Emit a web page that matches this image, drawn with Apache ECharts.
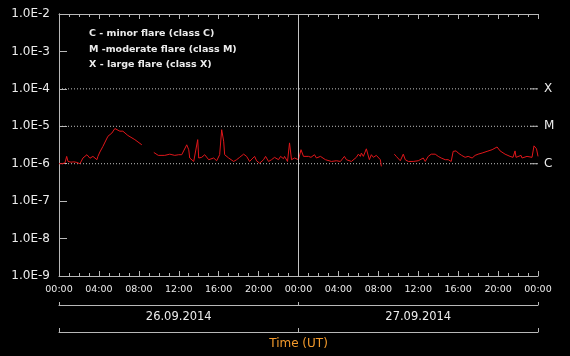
<!DOCTYPE html>
<html>
<head>
<meta charset="utf-8">
<script src="https://cdn.jsdelivr.net/npm/echarts@6/dist/echarts.min.js"></script>
<style>
html,body{margin:0;padding:0;background:#000;}
#chart{width:570px;height:356px;}
</style>
</head>
<body>
<div id="chart"></div>
<script>
// Time in hours since 26.09.2014 00:00 UT
const hours = [
  0, 0.3, 0.6, 0.77, 0.9, 1.2, 1.5, 1.8, 2.1, 2.4, 2.8, 3.1, 3.4, 3.8, 3.9, 4.1, 4.4, 4.6, 4.9, 5.3, 5.6, 5.8, 6.1, 6.4, 6.9, 7.6, 8.3,
  8.9,
  9.5, 9.95, 10.6, 11.1, 11.6, 12.0, 12.3, 12.5, 12.8, 13.0, 13.1, 13.5, 13.7, 13.9, 14.0, 14.3, 14.6, 15.0, 15.5, 15.8, 16.1, 16.3, 16.5, 16.6,
  17.0, 17.1, 17.5, 17.8, 18.1, 18.5, 18.8, 19.1, 19.3, 19.6, 19.8, 20.1, 20.5, 20.7, 21.0, 21.3, 21.6, 22.0, 22.2, 22.5, 22.6, 22.9, 23.1, 23.3, 23.6,
  24.0, 24.25, 24.5, 25.0, 25.25, 25.6, 25.8, 26.2, 26.7, 27.3, 27.8, 28.2, 28.6, 28.8, 29.3, 29.8, 30.0, 30.2, 30.3, 30.5, 30.8, 31.1, 31.3, 31.5, 31.8, 32.2, 32.3,
  33.0,
  33.6, 33.8, 34.2, 34.35, 34.5, 34.7, 35.0, 35.5, 36.0, 36.2, 36.5, 36.7, 37.0, 37.3, 37.7, 38.0, 38.3, 38.7, 39.0, 39.3, 39.5, 39.8, 40.0, 40.35, 40.7,
  41.0, 41.4, 41.7, 42.0, 42.4, 42.9, 43.4, 43.9, 44.2, 44.7, 45.2, 45.5, 45.7, 45.8, 46.3, 46.4, 46.9, 47.4, 47.6, 47.85, 48.0
];
// X-ray flux in units of 1e-6 W/m^2 (null = data gap)
const fluxE6 = [
  1.0, 1.0, 1.05, 1.57, 1.15, 1.1, 1.12, 1.08, 1.0, 1.42, 1.74, 1.4, 1.57, 1.28, 1.57, 2.06, 2.9, 3.1, 5.4, 6.6, 8.7, 8.2, 7.4, 7.4, 5.7, 4.4, 3.2,
  null,
  2.0, 1.67, 1.67, 1.8, 1.67, 1.74, 1.74, 1.57, 3.2, 2.37, 1.42, 1.15, 1.28, 4.4, 1.42, 1.48, 1.74, 1.28, 1.42, 1.2, 1.74, 8.1, 4.0, 1.74,
  1.42, 1.57, 1.15, 1.28, 1.48, 1.8, 1.57, 1.15, 1.2, 1.57, 1.2, 1.03, 1.28, 1.57, 1.15, 1.28, 1.48, 1.28, 1.57, 1.36, 1.57, 1.15, 3.6, 1.28, 1.42,
  1.28, 2.37, 1.57, 1.57, 1.48, 1.74, 1.42, 1.57, 1.28, 1.15, 1.2, 1.15, 1.57, 1.28, 1.15, 1.48, 1.8, 1.57, 1.93, 1.57, 2.5, 1.28, 1.74, 1.48, 1.67, 1.28, 0.85,
  null,
  1.8, 1.57, 1.2, 1.28, 1.8, 1.28, 1.15, 1.15, 1.2, 1.15, 1.42, 1.15, 1.57, 1.8, 1.8, 1.57, 1.42, 1.28, 1.28, 1.15, 2.14, 2.2, 1.93, 1.67, 1.48,
  1.57, 1.42, 1.67, 1.8, 1.93, 2.14, 2.37, 2.8, 2.2, 1.8, 1.57, 1.48, 2.2, 1.48, 1.67, 1.42, 1.57, 1.48, 3.0, 2.5, 1.57
];
const dayLabels = ['26.09.2014', '27.09.2014'];
const decadeExps = ['-9', '-8', '-7', '-6', '-5', '-4', '-3', '-2'];
const classNames = ['X', 'M', 'C'];
const classExps = ['-4', '-5', '-6'];
const legendLines = ['C - minor flare (class C)', 'M -moderate flare (class M)', 'X - large flare (class X)'];
const yMin = 1e-9, yMax = 1e-2;
const xMin = 0, xMax = 48;
const dayBoundary = 24;

const FONT = 'DejaVu Sans';
const TXT = '#ececec';
const AX = '#b8b8b8';

const seriesData = hours.map((h, i) => [h, fluxE6[i] == null ? '-' : fluxE6[i] * 1e-6]);

function hhmm(v) {
  const h = Math.round(v) % 24;
  return (h < 10 ? '0' : '') + h + ':00';
}
const isClass = (idx, val) => classExps.indexOf(val) >= 0;

// dotted class lines; the right-hand end carries a short solid tick mark (inside the plot)
const gridSeries = classExps.map(e => ({
  type: 'line', xAxisIndex: 0, yAxisIndex: 1, silent: true, clip: false,
  data: [
    {value: [xMin, e], symbol: 'none'},
    {value: [xMax, e]}
  ],
  showSymbol: true, showAllSymbol: true,
  symbol: 'rect', symbolSize: [8, 1], symbolOffset: ['-50%', 0],
  itemStyle: {color: AX, borderWidth: 0},
  lineStyle: {color: '#c0c0c0', type: [1, 2], width: 1}, z: 1
}));

const chart = echarts.init(document.getElementById('chart'), null, {renderer: 'canvas'});
const option = {
  backgroundColor: '#000',
  animation: false,
  textStyle: {fontFamily: FONT},
  title: {
    text: legendLines.join('\n'),
    left: 89, top: 26, padding: 0,
    textStyle: {color: TXT, fontSize: 9.5, fontWeight: 'bold', lineHeight: 15.5, fontFamily: FONT}
  },
  grid: {left: 59, right: 32, top: 14, bottom: 80, containLabel: false, outerBoundsMode: 'none'},
  xAxis: [
    {
      type: 'value', min: xMin, max: xMax, interval: 4, position: 'bottom',
      axisLine: {show: true, lineStyle: {color: AX}},
      axisTick: {show: true, inside: true, length: 5, lineStyle: {color: AX}},
      minorTick: {show: true, splitNumber: 4, length: 3, lineStyle: {color: AX}},
      axisLabel: {formatter: hhmm, color: TXT, fontSize: 9.5, margin: 9, fontFamily: FONT},
      splitLine: {show: false}
    },
    {
      type: 'value', min: xMin, max: xMax, interval: 4, position: 'top',
      axisLine: {show: true, lineStyle: {color: AX}},
      axisTick: {show: true, inside: true, length: 5, lineStyle: {color: AX}},
      minorTick: {show: true, splitNumber: 4, length: 3, lineStyle: {color: AX}},
      axisLabel: {show: false},
      splitLine: {show: false}
    },
    {
      type: 'category', data: dayLabels, position: 'bottom', offset: 29,
      axisLine: {show: true, lineStyle: {color: AX}},
      axisTick: {show: true, inside: true, length: 3, interval: 0, alignWithLabel: false, lineStyle: {color: AX}},
      axisLabel: {color: TXT, fontSize: 11.5, margin: 6, fontFamily: FONT},
      splitLine: {show: false}
    },
    {
      type: 'category', data: dayLabels, position: 'bottom', offset: 56,
      axisLine: {show: true, lineStyle: {color: AX}},
      axisTick: {show: true, inside: true, length: 4, interval: 0, alignWithLabel: false, lineStyle: {color: AX}},
      axisLabel: {show: false},
      name: 'Time (UT)', nameLocation: 'middle', nameGap: 6,
      nameTextStyle: {color: '#f39a2c', fontSize: 12, fontFamily: FONT},
      splitLine: {show: false}
    }
  ],
  yAxis: [
    {
      type: 'log', logBase: 10, min: yMin, max: yMax, splitNumber: 7, position: 'left',
      axisLine: {show: true, lineStyle: {color: AX}},
      axisTick: {show: true, inside: true, length: 8, lineStyle: {color: AX}},
      minorTick: {show: false},
      axisLabel: {
        color: TXT, fontSize: 12, margin: 9, fontFamily: FONT,
        formatter: v => '1.0E' + Math.round(Math.log10(v))
      },
      splitLine: {show: false}
    },
    {
      type: 'category', data: decadeExps, boundaryGap: false, position: 'right',
      axisLine: {show: true, lineStyle: {color: AX}},
      axisTick: {show: false},
      axisLabel: {
        color: TXT, fontSize: 12, margin: 6, fontFamily: FONT,
        interval: isClass,
        formatter: v => {
          const i = classExps.indexOf(v);
          return i >= 0 ? classNames[i] : '';
        }
      },
      splitLine: {show: false}
    }
  ],
  series: gridSeries.concat([
    {
      type: 'line', xAxisIndex: 0, yAxisIndex: 0,
      data: seriesData, showSymbol: false, connectNulls: false,
      lineStyle: {color: '#e0161a', width: 1},
      itemStyle: {color: '#e0161a'}, z: 3,
      markLine: {
        silent: true, symbol: 'none', label: {show: false},
        lineStyle: {color: '#c4c4c4', type: 'solid', width: 1},
        data: [{xAxis: dayBoundary}]
      }
    }
  ])
};
chart.setOption(option);
</script>
</body>
</html>
